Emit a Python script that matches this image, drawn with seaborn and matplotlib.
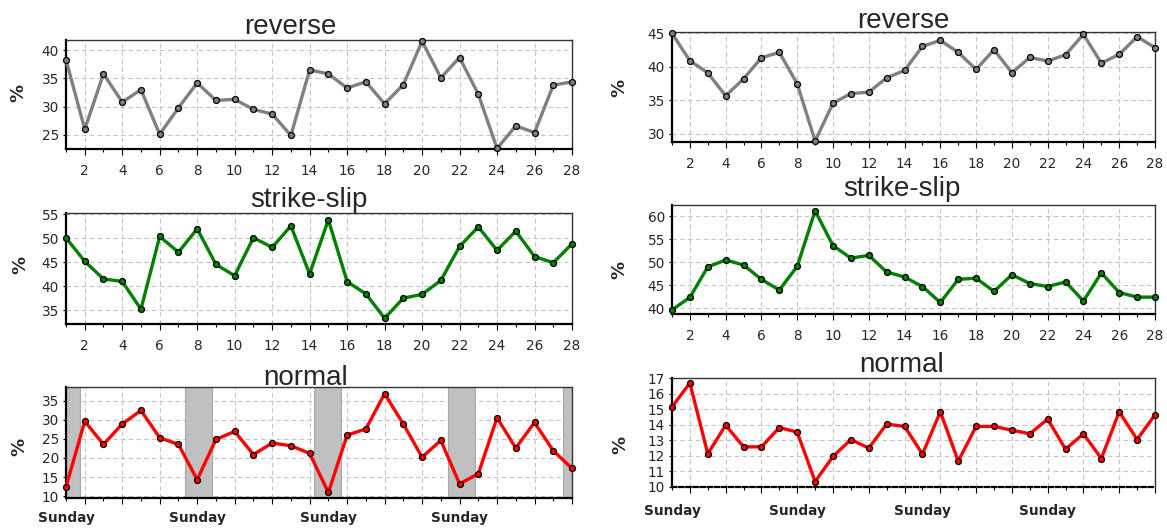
import matplotlib
matplotlib.use("Agg")
import matplotlib.pyplot as plt
import seaborn as sns
import pandas as pd
from matplotlib.ticker import MultipleLocator

# Day of month
days = list(range(1, 29))

# Share of each focal-mechanism type (%), two periods side by side
reverse_a = [38.3, 26.0, 35.8, 30.8, 33.0, 25.1, 29.8, 34.2, 31.1, 31.3, 29.5, 28.7, 24.9, 36.5,
             35.8, 33.3, 34.4, 30.5, 33.9, 41.6, 35.1, 38.7, 32.2, 22.6, 26.6, 25.4, 33.8, 34.4]
reverse_b = [45.0, 40.9, 39.1, 35.65, 38.2, 41.35, 42.15, 37.45, 28.9, 34.55, 36.0, 36.2, 38.35, 39.45,
             43.05, 43.95, 42.15, 39.6, 42.55, 39.1, 41.4, 40.85, 41.8, 44.85, 40.55, 41.85, 44.5, 42.85]
strike_a = [50.1, 45.2, 41.5, 41.0, 35.2, 50.4, 47.1, 52.0, 44.55, 42.2, 50.15, 48.1, 52.6, 42.55,
            53.9, 40.95, 38.4, 33.3, 37.5, 38.3, 41.2, 48.3, 52.4, 47.5, 51.5, 46.2, 44.9, 48.85]
strike_b = [39.7, 42.4, 49.0, 50.5, 49.4, 46.3, 44.0, 49.1, 61.15, 53.6, 50.9, 51.5, 47.9, 46.8,
            44.75, 41.3, 46.3, 46.55, 43.7, 47.3, 45.4, 44.75, 45.75, 41.6, 47.7, 43.45, 42.45, 42.45]
normal_a = [12.45, 29.6, 23.55, 28.9, 32.45, 25.3, 23.55, 14.3, 24.85, 26.95, 20.9, 23.9, 23.2, 21.2,
            10.95, 26.0, 27.6, 36.85, 28.9, 20.2, 24.6, 13.2, 15.85, 30.55, 22.6, 29.3, 21.9, 17.25]
normal_b = [15.15, 16.68, 12.13, 13.97, 12.58, 12.58, 13.82, 13.52, 10.35, 11.96, 13.05, 12.5, 14.04, 13.89,
            12.11, 14.83, 11.66, 13.89, 13.89, 13.65, 13.42, 14.36, 12.43, 13.42, 11.83, 14.83, 13.05, 14.64]

sundays = [1, 8, 15, 22]
# Weekend spans (in day units) shaded on the first "normal" panel
weekend_start = [0.3, 7.33, 14.23, 21.4, 27.54]
weekend_end = [1.75, 8.79, 15.67, 22.84, 29.0]

sns.set_style("white")
plt.rcParams["font.family"] = ["DejaVu Sans"]

W, H = 1167, 531
fig = plt.figure(figsize=(W / 100, H / 100), dpi=100)


def place(l, r, t, b):
    return fig.add_axes([l / W, 1 - b / H, (r - l) / W, (b - t) / H])


panels = [
    # values, colour, box (l, r, t, b), ylim, ystep, title, title x, title baseline, ylabel x, ylabel y, sunday axis, bands
    (reverse_a, "#808080", (66, 572, 40, 149), (22.5, 41.8), 5, "reverse", 290, 34, 18, 93, False, False),
    (reverse_b, "#808080", (672, 1155, 32, 142), (28.75, 45.2), 5, "reverse", 903, 28, 619, 88, False, False),
    (strike_a, "#008000", (66, 572, 213, 324), (32.1, 55.3), 5, "strike-slip", 309, 207, 20, 265, False, False),
    (strike_b, "#008000", (672, 1155, 205, 314), (38.8, 62.4), 5, "strike-slip", 902, 196, 619, 270, False, False),
    (normal_a, "#ff0000", (66, 572, 387, 498), (9.5, 38.6), 5, "normal", 306, 385, 19, 447, True, True),
    (normal_b, "#ff0000", (672, 1155, 378, 487), (10, 17), 1, "normal", 902, 372, 620, 445, True, False),
]

for vals, col, box, ylim, ystep, title, tx, tb, lx, ly, sunday_axis, bands in panels:
    l, r, t, b = box
    ax = place(l, r, t, b)
    df = pd.DataFrame({"day": days, "pct": vals})
    ax.set_axisbelow(True)
    if bands:
        for s0, s1 in zip(weekend_start, weekend_end):
            ax.axvspan(s0, s1, color="#c0c0c0", ec="#a8a8a8", lw=0.8, zorder=1)
    sns.lineplot(data=df, x="day", y="pct", ax=ax, color=col, lw=2.4, marker="o",
                 markersize=4.3, markerfacecolor=col, markeredgecolor="black",
                 markeredgewidth=0.9, zorder=3, clip_on=False)
    ax.set_xlim(1, 28)
    ax.set_ylim(*ylim)
    ax.xaxis.set_major_locator(MultipleLocator(2))
    ax.xaxis.set_minor_locator(MultipleLocator(1))
    ax.yaxis.set_major_locator(MultipleLocator(ystep))
    ax.grid(True, which="major", color="#c4c4c4", ls=(0, (4, 3)), lw=0.8)
    ax.set_xlabel("")
    ax.set_ylabel("")
    for side in ("left", "bottom"):
        ax.spines[side].set_linewidth(1.6)
        ax.spines[side].set_color("black")
    for side in ("top", "right"):
        ax.spines[side].set_linewidth(1.0)
        ax.spines[side].set_color("#333333")
        ax.spines[side].set_visible(True)
    ax.tick_params(axis="x", which="major", direction="out", length=4, width=0.8,
                   color="black", pad=7, labelsize=9.8, bottom=True)
    ax.tick_params(axis="x", which="minor", direction="out", length=2, width=0.8,
                   color="black", bottom=True)
    ax.tick_params(axis="y", which="major", direction="out", length=2, width=0.8,
                   color="black", pad=3, labelsize=9.8, left=True)
    if sunday_axis:
        ax.tick_params(axis="x", labelbottom=False)
        gap = 13 if bands else 17
        for s in sundays:
            ax.text(s, -gap / (b - t), "Sunday", transform=ax.get_xaxis_transform(),
                    ha="center", va="top", fontsize=9.8, fontweight="bold")
        if not bands:
            ax.spines["bottom"].set_linestyle((0, (2, 1.2)))
    fig.text(tx / W, 1 - tb / H, title, ha="center", va="baseline",
             fontsize=20, family=["Liberation Sans", "DejaVu Sans"])
    fig.text(lx / W, 1 - ly / H, "%", ha="center", va="center", rotation=90,
             fontsize=13, fontweight="bold")

fig.savefig("out.png", dpi=100, facecolor="white")
